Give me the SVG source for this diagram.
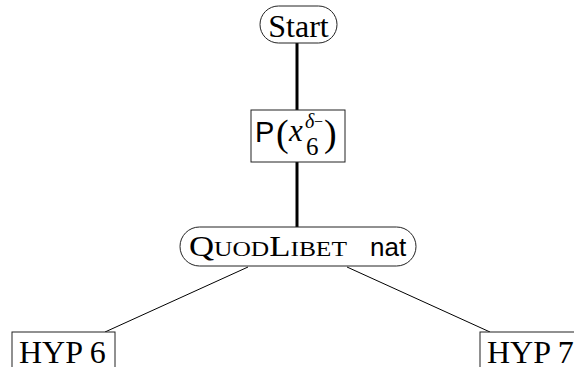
<svg xmlns="http://www.w3.org/2000/svg" width="574" height="367" viewBox="0 0 574 367">
<style>
.box{fill:#fff;stroke:#222;stroke-width:1}
.thick{stroke:#000;stroke-width:3;fill:none}
.thin{stroke:#000;stroke-width:1;fill:none}
.serif{font-family:"Liberation Serif","Times New Roman",serif;fill:#000}
.sans{font-family:"Liberation Sans",Arial,sans-serif;fill:#000}
</style>
<rect width="574" height="367" fill="#fff"/>
<g id="connectors">
<line class="thick" x1="297" y1="43" x2="297" y2="110"/>
<line class="thick" x1="297" y1="162" x2="297" y2="227"/>
<line class="thin" x1="248" y1="267" x2="105" y2="332"/>
<line class="thin" x1="347" y1="267" x2="490" y2="332"/>
</g>
<g id="start">
<rect class="box" x="260" y="6" width="77" height="37" rx="18.5" ry="18.5"/>
<text class="serif" font-family="Liberation Serif, serif" x="298.5" y="37" font-size="32" text-anchor="middle">Start</text>
</g>
<g id="p">
<rect class="box" x="251" y="110" width="94" height="52"/>
<text class="sans" font-family="Liberation Sans, sans-serif" x="255" y="142" font-size="29">P</text>
<text class="serif" font-family="Liberation Serif, serif" x="276" y="146" font-size="38">(</text>
<text class="serif" font-family="Liberation Serif, serif" x="289" y="141" font-size="31" font-style="italic">x</text>
<text class="serif" font-family="Liberation Serif, serif" x="305" y="128" font-size="20" font-style="italic">δ</text>
<text class="serif" font-family="Liberation Serif, serif" x="314" y="127" font-size="16">−</text>
<text class="serif" font-family="Liberation Serif, serif" x="306" y="155" font-size="25">6</text>
<text class="serif" font-family="Liberation Serif, serif" x="324" y="146" font-size="38">)</text>
</g>
<g id="quodlibet">
<rect class="box" x="180" y="227" width="236" height="39" rx="19.5" ry="19.5"/>
<text class="serif" font-family="Liberation Serif, serif" x="189" y="256" font-size="30" textLength="158" lengthAdjust="spacingAndGlyphs">Q<tspan font-size="22">UOD</tspan>L<tspan font-size="22">IBET</tspan></text>
<text class="sans" font-family="Liberation Sans, sans-serif" x="370" y="256" font-size="26">nat</text>
</g>
<g id="hyp6">
<rect class="box" x="12" y="332" width="103" height="50"/>
<text class="serif" font-family="Liberation Serif, serif" x="19" y="363" font-size="32">HYP 6</text>
</g>
<g id="hyp7">
<rect class="box" x="480" y="332" width="110" height="50"/>
<text class="serif" font-family="Liberation Serif, serif" x="487" y="363" font-size="32">HYP 7</text>
</g>
</svg>
